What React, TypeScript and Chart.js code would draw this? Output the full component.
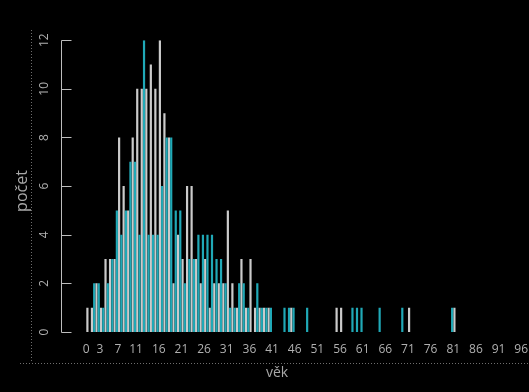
import { useEffect, useRef } from 'react';
import { Chart, registerables } from 'chart.js';

Chart.register(...registerables);

// categories: age in years
const ageLabels = [
  '0', '1', '2', '3', '4', '5', '6', '7', '8', '9',
  '10', '11', '12', '13', '14', '15', '16', '17', '18', '19',
  '20', '21', '22', '23', '24', '25', '26', '27', '28', '29',
  '30', '31', '32', '33', '34', '35', '36', '37', '38', '39',
  '40', '41', '42', '43', '44', '45', '46', '47', '48', '49',
  '50', '51', '52', '53', '54', '55', '56', '57', '58', '59',
  '60', '61', '62', '63', '64', '65', '66', '67', '68', '69',
  '70', '71', '72', '73', '74', '75', '76', '77', '78', '79',
  '80', '81', '82', '83', '84', '85', '86', '87', '88', '89',
  '90', '91', '92', '93', '94', '95', '96',
];

// x tick labels that are shown
const shownTickLabels = ['0', '3', '7', '11', '16', '21', '26', '31', '36', '41', '46', '51', '56', '61', '66', '71', '76', '81', '86', '91', '96'];

// y ticks
const yMin = 0;
const yMax = 12;
const yStep = 2;

// series 1 (teal) counts per age
const tealCounts = [
  0, 0, 2, 2, 1, 2, 3, 5, 4, 5,
  7, 7, 4, 12, 4, 4, 4, 6, 8, 8,
  5, 5, 2, 3, 3, 4, 4, 4, 4, 3,
  3, 2, 1, 1, 2, 2, 1, 0, 2, 1,
  1, 1, 0, 0, 1, 1, 1, 0, 0, 1,
  0, 0, 0, 0, 0, 0, 0, 0, 0, 1,
  1, 1, 0, 0, 0, 1, 0, 0, 0, 0,
  1, 0, 0, 0, 0, 0, 0, 0, 0, 0,
  0, 1, 0, 0, 0, 0, 0, 0, 0, 0,
  0, 0, 0, 0, 0, 0, 0,
];

// series 2 (grey) counts per age
const greyCounts = [
  1, 1, 2, 1, 3, 3, 3, 8, 6, 5,
  8, 10, 10, 10, 11, 10, 12, 9, 8, 2,
  4, 3, 6, 6, 3, 2, 3, 1, 2, 2,
  2, 5, 2, 1, 3, 1, 3, 1, 1, 1,
  1, 0, 0, 0, 0, 1, 0, 0, 0, 0,
  0, 0, 0, 0, 0, 1, 1, 0, 0, 0,
  0, 0, 0, 0, 0, 0, 0, 0, 0, 0,
  0, 1, 0, 0, 0, 0, 0, 0, 0, 0,
  0, 1, 0, 0, 0, 0, 0, 0, 0, 0,
  0, 0, 0, 0, 0, 0, 0,
];

const xTitle = 'věk';
const yTitle = 'počet';

const FONT = '"Open Sans", "Noto Sans", sans-serif';
const TEAL = '#20a9b7';
const GREY = '#cbcbcb';
const TEXT = '#b0b0b0';

const decor = {
  id: 'decor',
  beforeDraw(chart: any) {
    const { ctx } = chart;
    ctx.save();
    ctx.fillStyle = '#000000';
    ctx.fillRect(0, 0, chart.width, chart.height);
    ctx.restore();
  },
  afterDraw(chart: any) {
    const { ctx } = chart;
    const y = chart.scales.y;
    ctx.save();
    // y axis line and tick marks (R style)
    ctx.strokeStyle = '#bdbdbd';
    ctx.lineWidth = 1;
    const ax = 61.5;
    const tickEnd = 71.5;
    const top = Math.round(y.getPixelForValue(yMax)) + 0.5;
    const bottom = Math.round(y.getPixelForValue(yMin)) + 0.5;
    ctx.beginPath();
    ctx.moveTo(ax, top);
    ctx.lineTo(ax, bottom);
    y.ticks.forEach((t: any) => {
      const py = Math.round(y.getPixelForValue(t.value)) + 0.5;
      ctx.moveTo(ax, py);
      ctx.lineTo(tickEnd, py);
    });
    ctx.stroke();
    // dotted frame lines
    ctx.strokeStyle = '#6e6e6e';
    ctx.setLineDash([1, 2]);
    ctx.beginPath();
    ctx.moveTo(31.5, 30);
    ctx.lineTo(31.5, 363);
    ctx.moveTo(20, 363.5);
    ctx.lineTo(529, 363.5);
    ctx.stroke();
    ctx.setLineDash([]);
    // axis titles
    ctx.fillStyle = '#a8a8a8';
    ctx.font = '14px ' + FONT;
    ctx.textAlign = 'center';
    ctx.textBaseline = 'middle';
    ctx.fillText(xTitle, 277, 373);
    ctx.font = '16px ' + FONT;
    ctx.translate(22, 191);
    ctx.rotate(-Math.PI / 2);
    ctx.fillText(yTitle, 0, 0);
    ctx.restore();
  },
};

export default function App() {
  const canvasRef = useRef<HTMLCanvasElement | null>(null);

  useEffect(() => {
    document.body.style.margin = '0';
    document.body.style.background = '#000';
    const canvas = canvasRef.current;
    if (!canvas) return;
    const chart = new Chart(canvas, {
      type: 'bar',
      data: {
        labels: ageLabels,
        datasets: [
          {
            label: 'a',
            data: tealCounts,
            backgroundColor: TEAL,
            borderWidth: 0,
            categoryPercentage: 1,
            barPercentage: 0.97,
          },
          {
            label: 'b',
            data: greyCounts,
            backgroundColor: GREY,
            borderWidth: 0,
            categoryPercentage: 1,
            barPercentage: 0.97,
          },
        ],
      },
      options: {
        responsive: false,
        animation: false,
        devicePixelRatio: 1,
        layout: { padding: { top: 38, right: 5.5, left: 0, bottom: 0 } },
        plugins: { legend: { display: false }, tooltip: { enabled: false } },
        scales: {
          x: {
            type: 'category',
            offset: true,
            grid: { display: false, drawTicks: false },
            border: { display: false },
            ticks: {
              autoSkip: false,
              minRotation: 0,
              maxRotation: 0,
              padding: 10,
              color: TEXT,
              font: { family: FONT, size: 12 },
              callback: (_v: any, i: number) =>
                shownTickLabels.includes(ageLabels[i]) ? ageLabels[i] : '',
            },
            afterFit: (s: any) => {
              s.height = 60;
              s.paddingLeft = 0;
              s.paddingRight = 0;
            },
          },
          y: {
            min: yMin,
            max: yMax,
            grid: { display: false, drawTicks: false },
            border: { display: false },
            ticks: {
              stepSize: yStep,
              minRotation: 90,
              maxRotation: 90,
              crossAlign: 'center',
              padding: 33,
              color: TEXT,
              font: { family: FONT, size: 12 },
            },
            afterFit: (s: any) => {
              s.width = 84;
            },
          },
        },
      },
      plugins: [decor],
    });
    return () => chart.destroy();
  }, []);

  return (
    <div style={{ position: 'absolute', left: 0, top: 0, width: 529, height: 392, background: '#000' }}>
      <canvas ref={canvasRef} width={529} height={392} style={{ display: 'block', width: 529, height: 392 }} />
    </div>
  );
}
